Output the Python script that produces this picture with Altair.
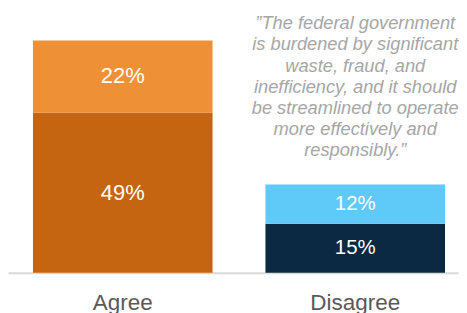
import altair as alt
import pandas as pd

categories = ["Agree", "Agree", "Disagree", "Disagree"]
segments = ["Agree strongly", "Agree somewhat", "Disagree strongly", "Disagree somewhat"]
values = [49, 22, 15, 12]
stack_order = [0, 1, 0, 1]
colors = ["#C56411", "#EE9035", "#0C2944", "#5FCAF8"]
quote_lines = [
    "\u201dThe federal government",
    "is burdened by significant",
    "waste, fraud, and",
    "inefficiency, and it should",
    "be streamlined to operate",
    "more effectively and",
    "responsibly.\u201d",
]

df = pd.DataFrame({
    "category": categories,
    "segment": segments,
    "value": values,
    "order": stack_order,
})

FONT = "Liberation Sans"

xenc = alt.X(
    "category:N",
    sort=["Agree", "Disagree"],
    scale=alt.Scale(paddingInner=0.2275, paddingOuter=0.0816, align=0.658),
    axis=alt.Axis(
        title=None, labelAngle=0, labelFontSize=22.5, labelColor="#595959",
        labelFont=FONT, labelPadding=19, ticks=False,
        domainColor="#D9D9D9", domainWidth=2,
    ),
)
yscale = alt.Scale(domain=[0, 80.8], nice=False, zero=True)

base = alt.Chart(df).transform_stack(
    stack="value", groupby=["category"], as_=["y0", "y1"],
    sort=[alt.SortField("order", order="ascending")],
).transform_calculate(
    mid="(datum.y0 + datum.y1) / 2",
    label="datum.value + '%'",
)

bars = base.mark_bar().encode(
    x=xenc,
    y=alt.Y("y0:Q", scale=yscale, axis=None),
    y2="y1:Q",
    color=alt.Color("segment:N", scale=alt.Scale(domain=segments, range=colors), legend=None),
)

labels = base.mark_text(color="white", font=FONT, baseline="middle").encode(
    x=xenc,
    y=alt.Y("mid:Q", scale=yscale, axis=None),
    text="label:N",
    size=alt.condition("datum.category == 'Agree'", alt.value(22), alt.value(20.5)),
)

qdf = pd.DataFrame({"category": ["Disagree"], "text": ["\n".join(quote_lines)]})
quote = alt.Chart(qdf).mark_text(
    lineBreak="\n", font=FONT, fontStyle="italic", fontSize=18.3,
    lineHeight=21.2, color="#A6A6A6", align="center", baseline="alphabetic",
).encode(
    x=xenc,
    y=alt.value(21),
    text="text:N",
)

chart = alt.layer(bars, labels, quote).properties(
    width=451, height=265, padding=0
).configure_view(stroke=None)

chart.save("out.html", embed_options={"renderer": "svg", "actions": False})
